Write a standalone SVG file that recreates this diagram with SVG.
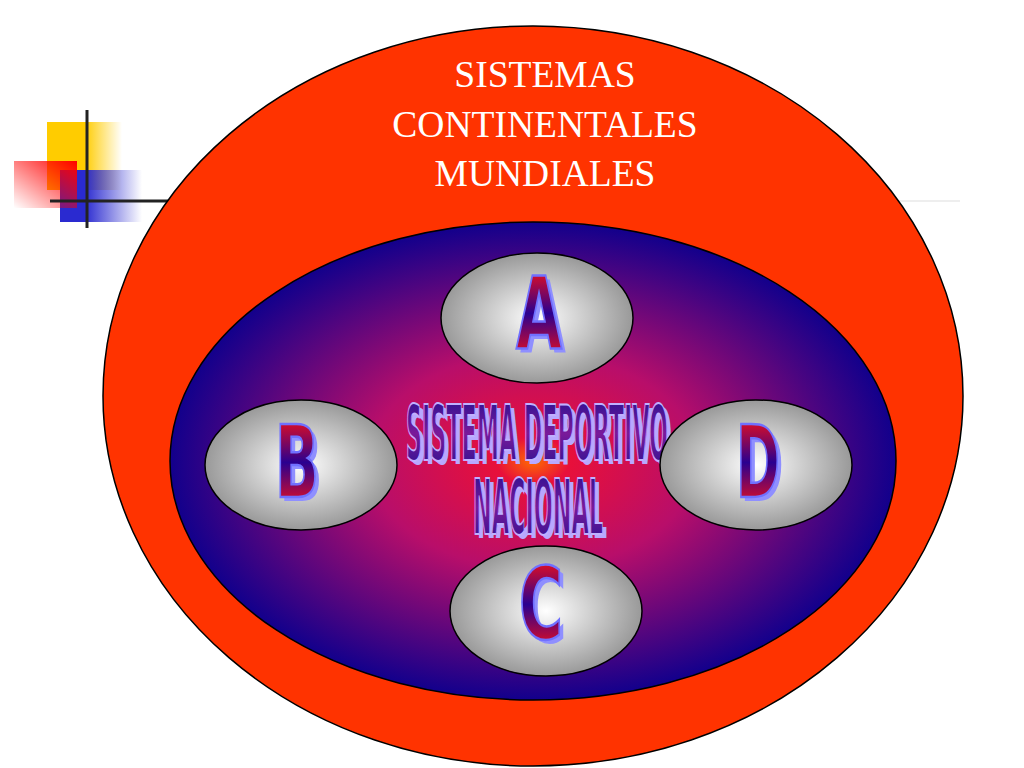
<svg xmlns="http://www.w3.org/2000/svg" width="1024" height="768" viewBox="0 0 1024 768">
<defs>
<radialGradient id="inner" cx="0.5" cy="0.5" r="0.5">
<stop offset="0" stop-color="#ff6a00"/>
<stop offset="0.1" stop-color="#e8103a"/>
<stop offset="0.45" stop-color="#b80e6a"/>
<stop offset="1" stop-color="#12008c"/>
</radialGradient>
<radialGradient id="grey" cx="0.5" cy="0.5" r="0.5">
<stop offset="0" stop-color="#ffffff"/>
<stop offset="1" stop-color="#999999"/>
</radialGradient>
<linearGradient id="let" x1="0" y1="0" x2="0" y2="1">
<stop offset="0.08" stop-color="#ff1010"/>
<stop offset="0.5" stop-color="#2a0090"/>
<stop offset="0.92" stop-color="#ff1010"/>
</linearGradient>
<linearGradient id="word" x1="0" y1="0" x2="0" y2="1">
<stop offset="0" stop-color="#1a0f90"/>
<stop offset="0.5" stop-color="#7a1a9a"/>
<stop offset="1" stop-color="#1a0f90"/>
</linearGradient>
<linearGradient id="yel" x1="0" y1="0" x2="1" y2="0">
<stop offset="0.5" stop-color="#ffcc00"/>
<stop offset="1" stop-color="#ffcc00" stop-opacity="0"/>
</linearGradient>
<linearGradient id="blu" x1="0" y1="0" x2="1" y2="0">
<stop offset="0.3" stop-color="#2a2ad0"/>
<stop offset="1" stop-color="#2a2ad0" stop-opacity="0"/>
</linearGradient>
<linearGradient id="red" x1="1" y1="0" x2="0" y2="1">
<stop offset="0" stop-color="#ff0000"/>
<stop offset="1" stop-color="#ff0000" stop-opacity="0"/>
</linearGradient>
<style>
.sm{stroke:#000;stroke-width:1.5}
.big{font-family:"DejaVu Sans Condensed","DejaVu Sans",sans-serif;font-weight:bold;text-anchor:middle}
.lt{fill:url(#let);stroke:#7070ff;stroke-width:2.5;font-size:100px}
.ls{fill:#8f8fff;font-size:100px}
.wd{fill:url(#word);stroke:#c0b0ff;stroke-width:2;font-size:76px}
.ws{fill:#b8a8ff;font-size:76px}
.t{font-family:"Liberation Serif",serif;font-size:37.5px;fill:#fff;text-anchor:middle}
</style>
</defs>
<rect width="1024" height="768" fill="#fff"/>
<g id="deco">
<rect x="47" y="122" width="75" height="68" fill="url(#yel)"/>
<rect x="60" y="170" width="82" height="52" fill="url(#blu)"/>
<rect x="14" y="161" width="63" height="47" fill="url(#red)"/>
<line x1="87" y1="110" x2="87" y2="228" stroke="#222" stroke-width="3"/>
<line x1="50" y1="201" x2="170" y2="201" stroke="#222" stroke-width="3"/>
<line x1="890" y1="201" x2="960" y2="201" stroke="#eee" stroke-width="2"/>
</g>
<g id="outer">
<ellipse cx="533" cy="396" rx="430" ry="370" fill="#ff3300" class="sm"/>
<text class="t" x="545" y="87">SISTEMAS</text>
<text class="t" x="545" y="137">CONTINENTALES</text>
<text class="t" x="545" y="186">MUNDIALES</text>
</g>
<g id="inner-node">
<ellipse cx="533" cy="461" rx="363" ry="239" fill="url(#inner)" class="sm"/>
</g>
<g id="center-label">
<text class="big ws" x="541" y="464" textLength="262" lengthAdjust="spacingAndGlyphs">SISTEMA DEPORTIVO</text>
<text class="big wd" x="537" y="460" textLength="262" lengthAdjust="spacingAndGlyphs">SISTEMA DEPORTIVO</text>
<text class="big ws" x="542" y="538" textLength="130" lengthAdjust="spacingAndGlyphs">NACIONAL</text>
<text class="big wd" x="538" y="534" textLength="130" lengthAdjust="spacingAndGlyphs">NACIONAL</text>
</g>
<g id="nodeA">
<ellipse cx="537" cy="318" rx="96" ry="65" fill="url(#grey)" class="sm"/>
<text class="big ls" x="543" y="352" textLength="46" lengthAdjust="spacingAndGlyphs">A</text>
<text class="big lt" x="539" y="348" textLength="46" lengthAdjust="spacingAndGlyphs">A</text>
</g>
<g id="nodeB">
<ellipse cx="301" cy="465" rx="96" ry="65" fill="url(#grey)" class="sm"/>
<text class="big ls" x="301" y="501" textLength="44" lengthAdjust="spacingAndGlyphs">B</text>
<text class="big lt" x="297" y="497" textLength="44" lengthAdjust="spacingAndGlyphs">B</text>
</g>
<g id="nodeD">
<ellipse cx="756" cy="465" rx="96" ry="65" fill="url(#grey)" class="sm"/>
<text class="big ls" x="762" y="501" textLength="44" lengthAdjust="spacingAndGlyphs">D</text>
<text class="big lt" x="758" y="497" textLength="44" lengthAdjust="spacingAndGlyphs">D</text>
</g>
<g id="nodeC">
<ellipse cx="546" cy="611" rx="96" ry="65" fill="url(#grey)" class="sm"/>
<text class="big ls" x="545" y="643" textLength="44" lengthAdjust="spacingAndGlyphs">C</text>
<text class="big lt" x="541" y="639" textLength="44" lengthAdjust="spacingAndGlyphs">C</text>
</g>
<g id="connectors"/>
</svg>
